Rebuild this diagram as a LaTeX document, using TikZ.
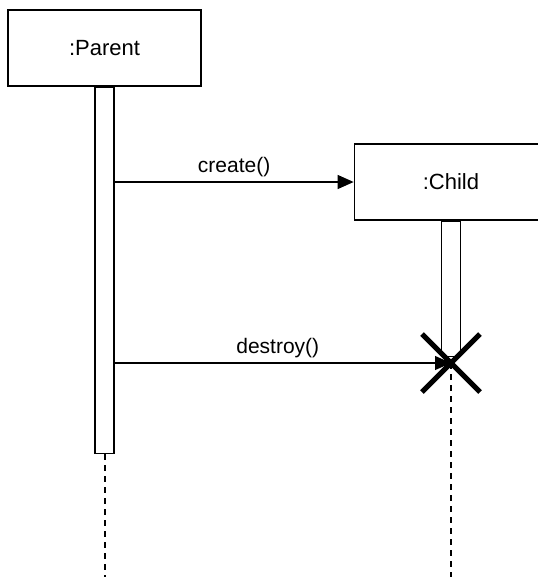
\documentclass[tikz,border=0pt]{standalone}
\usepackage{fontspec}
\setmainfont{Liberation Sans}
\usetikzlibrary{arrows.meta}

\begin{document}
\begin{tikzpicture}
		[x=1pt,y=-1pt,%%%%%%%%%%%%%%%%%%%%%%%%%%%%%%
		objbox/.style={rectangle,draw=black,line width=1.7pt,fill=white,minimum width=193pt,minimum height=76pt,font=\fontsize{22}{26}\selectfont},
		actbar/.style={rectangle,draw=black,line width=1.3pt,fill=white,minimum width=19pt,inner sep=0pt,anchor=north},
		lifeline/.style={line width=2pt,dash pattern=on 6pt off 5pt},
		msg/.style={line width=1.2pt,-{Triangle[length=16pt,width=14pt]}},
		msglabel/.style={anchor=base,yshift=10pt,inner sep=0pt,font=\fontsize{21}{25}\selectfont},
		]%%%%%%%%%%%%%%%%%%%%%%%%%%%%%%
		\useasboundingbox (0,0) rectangle (538,582);
		
		\node[objbox] (parent) at (104.5,48) {:Parent};
		\node[objbox] (child) at (451,182) {:Child};
		\node[actbar,minimum height=366pt] (pbar) at (parent.south) {};
		\node[actbar,minimum height=135pt] (cbar) at (child.south) {};
		
		\coordinate (kill) at (451,363);
		\coordinate (pend) at (104.5,577);
		\coordinate (cend) at (451,577);
		
		\draw[lifeline] (pbar.south) -- (pend);
		\draw[lifeline] (kill) -- (cend);
		
		\draw[msg] (pbar.east |- child.west) -- node[msglabel,pos=0.5]{create()} (child.west);
		\draw[msg] (pbar.east |- kill) -- node[msglabel,pos=0.485]{destroy()} (kill);
		
		\draw[line width=5pt] ([shift={(-29,-29)}]kill) -- ([shift={(29,29)}]kill);
		\draw[line width=5pt] ([shift={(-29,29)}]kill) -- ([shift={(29,-29)}]kill);
		\end{tikzpicture}
\end{document}
